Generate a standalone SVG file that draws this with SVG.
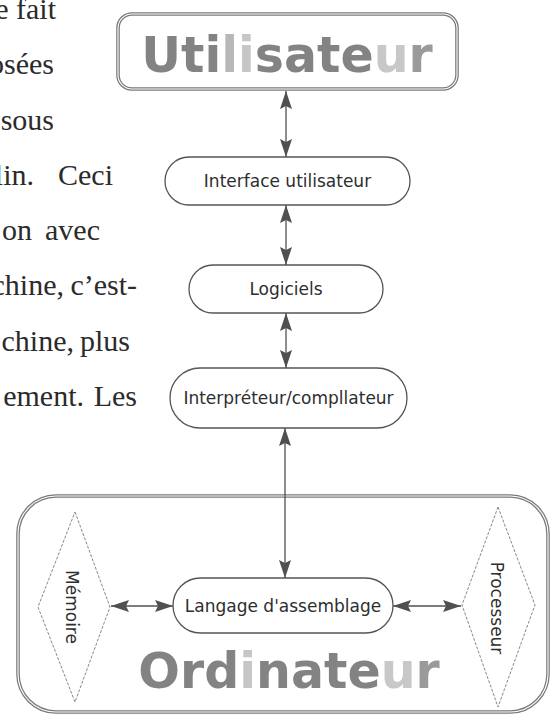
<svg xmlns="http://www.w3.org/2000/svg" width="551" height="715" viewBox="0 0 551 715">
<style>
.body{font-family:"Liberation Serif","Times New Roman",serif;font-size:30px;fill:#2b2b2b;text-anchor:end}
.lbl{font-family:"DejaVu Sans",Verdana,sans-serif;font-size:17px;fill:#2e2e2e;text-anchor:middle}
.big{font-family:"DejaVu Sans",Verdana,sans-serif;font-weight:bold;font-size:49px;text-anchor:middle}
.node{fill:#fff;stroke:#555;stroke-width:1.3}
.frame{fill:none;stroke:#7a7a7a;stroke-width:3.6}
.frameIn{fill:none;stroke:#fff;stroke-width:1.1}
.dia{fill:#fff;stroke:#888;stroke-width:1;stroke-dasharray:3 1.5}
.conn{fill:none;stroke:#505050;stroke-width:1.3;marker-start:url(#ah);marker-end:url(#ah)}
.d1{fill:#838383}.l1{fill:#b8b8b8}.l2{fill:#c6c6c6}.lu{fill:#c8c8c8}.mr{fill:#9a9a9a}
</style>
<defs>
<marker id="ah" viewBox="0 0 18 12" refX="18" refY="6" markerWidth="18" markerHeight="12" markerUnits="userSpaceOnUse" orient="auto-start-reverse">
<path d="M0,0 L18,6 L0,12 L3,6 z" fill="#505050"/>
</marker>
</defs>

<g id="page-text">
<text class="body" x="56" y="19">e fait</text>
<text class="body" x="54" y="74">osées</text>
<text class="body" x="54" y="130">sous</text>
<text class="body" x="34" y="185">lin.</text>
<text class="body" x="113" y="185">Ceci</text>
<text class="body" x="32" y="240">on</text>
<text class="body" x="100" y="240">avec</text>
<text class="body" x="64" y="295">achine,</text>
<text class="body" x="137" y="295">c’est-</text>
<text class="body" x="74" y="351">chine,</text>
<text class="body" x="130" y="351">plus</text>
<text class="body" x="84" y="406">ement.</text>
<text class="body" x="137" y="406">Les</text>
</g>

<g id="utilisateur">
<rect class="frame" x="118" y="14" width="339" height="75" rx="14"/>
<rect class="frameIn" x="118" y="14" width="339" height="75" rx="14"/>
<text class="big" x="287" y="72"><tspan class="d1">Uti</tspan><tspan class="l1">l</tspan><tspan class="l2">i</tspan><tspan class="d1">sate</tspan><tspan class="lu">u</tspan><tspan class="mr">r</tspan></text>
</g>

<g id="ordinateur">
<rect class="frame" x="18" y="496" width="530" height="216" rx="38"/>
<rect class="frameIn" x="18" y="496" width="530" height="216" rx="38"/>
<text class="big" x="289" y="688"><tspan class="d1">Ord</tspan><tspan class="l2">i</tspan><tspan class="d1">nate</tspan><tspan class="lu">u</tspan><tspan class="mr">r</tspan></text>
</g>

<g id="interface">
<rect class="node" x="165" y="157" width="245" height="48" rx="24"/>
<text class="lbl" x="287.5" y="187">Interface utilisateur</text>
</g>

<g id="logiciels">
<rect class="node" x="189" y="265" width="194" height="48" rx="24"/>
<text class="lbl" x="286" y="295">Logiciels</text>
</g>

<g id="interpreteur">
<rect class="node" x="170" y="368" width="237" height="60" rx="30"/>
<text class="lbl" x="288.5" y="404">Interpréteur/compllateur</text>
</g>

<g id="langage">
<rect class="node" x="173" y="578" width="220" height="55" rx="27.5"/>
<text class="lbl" x="283" y="612">Langage d'assemblage</text>
</g>

<g id="memoire">
<polygon class="dia" points="75,512 110,607 75,702 38,607"/>
<text class="lbl" transform="translate(72,607) rotate(90)" dominant-baseline="central">Mémoire</text>
</g>

<g id="processeur">
<polygon class="dia" points="498,507 535,605 498,707 462,605"/>
<text class="lbl" transform="translate(497,608) rotate(90)" dominant-baseline="central">Processeur</text>
</g>

<g id="connectors">
<line class="conn" x1="286" y1="91" x2="286" y2="157"/>
<line class="conn" x1="286" y1="205" x2="286" y2="265"/>
<line class="conn" x1="286" y1="313" x2="286" y2="368"/>
<line class="conn" x1="285" y1="428" x2="285" y2="578"/>
<line class="conn" x1="111" y1="606" x2="173" y2="606"/>
<line class="conn" x1="393" y1="606" x2="461" y2="606"/>
</g>
</svg>
